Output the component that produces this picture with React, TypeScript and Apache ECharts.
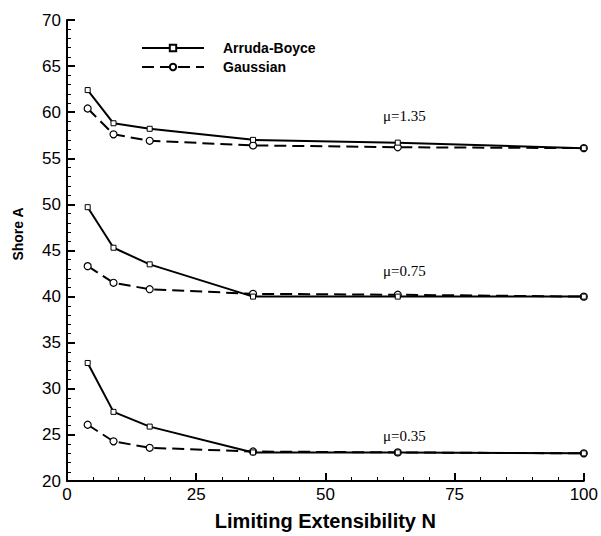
import React, { useEffect, useRef } from "react";
import * as echarts from "echarts";

const nValues = [4, 9, 16, 36, 64, 100];
const ab135 = [62.4, 58.8, 58.2, 57.0, 56.7, 56.1];
const ga135 = [60.4, 57.6, 56.9, 56.4, 56.2, 56.1];
const ab075 = [49.7, 45.3, 43.5, 40.0, 40.0, 40.0];
const ga075 = [43.3, 41.5, 40.8, 40.3, 40.2, 40.0];
const ab035 = [32.8, 27.5, 25.9, 23.1, 23.1, 23.0];
const ga035 = [26.1, 24.3, 23.6, 23.2, 23.1, 23.0];
const muLabels = ["μ=1.35", "μ=0.75", "μ=0.35"];
const seriesNames = ["Arruda-Boyce", "Gaussian"];
const xTitle = "Limiting Extensibility N";
const yTitle = "Shore A";

const pair = (ys: number[]) => nValues.map((n, i) => [n, ys[i]]);
const sans = "Liberation Sans, Arial, sans-serif";
const serifFont = "15px 'Liberation Serif', 'Times New Roman', serif";

export default function App() {
  const ref = useRef<HTMLDivElement>(null);
  useEffect(() => {
    if (!ref.current) return;
    const chart = echarts.init(ref.current, undefined, { renderer: "svg" });
    const abSeries = (d: number[]) => ({
      name: seriesNames[0],
      type: "line",
      data: pair(d),
      symbol: "rect",
      symbolSize: 5,
      showAllSymbol: true,
      itemStyle: { color: "#fff", borderColor: "#000", borderWidth: 1 },
      lineStyle: { color: "#000", width: 2, type: "solid" },
      z: 3,
    });
    const gaSeries = (d: number[]) => ({
      name: seriesNames[1],
      type: "line",
      data: pair(d),
      symbol: "circle",
      symbolSize: 7,
      showAllSymbol: true,
      itemStyle: { color: "#fff", borderColor: "#000", borderWidth: 1.2 },
      lineStyle: { color: "#000", width: 2, type: [12, 6] },
      z: 2,
    });
    const tickLabel = { fontFamily: sans, fontSize: 17, color: "#000" };
    chart.setOption({
      animation: false,
      backgroundColor: "#fff",
      grid: { left: 67, right: 15, top: 20, bottom: 44, containLabel: false },
      legend: {
        orient: "vertical",
        left: 141,
        top: 41,
        padding: 0,
        itemWidth: 62,
        itemHeight: 8,
        itemGap: 5,
        data: seriesNames,
        textStyle: {
          fontFamily: sans,
          fontWeight: "bold",
          fontSize: 14,
          color: "#000",
          padding: [0, 0, 0, 14],
        },
      },
      xAxis: {
        type: "value",
        min: 0,
        max: 100,
        interval: 25,
        name: xTitle,
        nameLocation: "middle",
        nameGap: 30,
        nameTextStyle: { fontFamily: sans, fontWeight: "bold", fontSize: 20, color: "#000" },
        axisLine: { show: true, lineStyle: { color: "#000", width: 2 } },
        axisTick: { show: true, inside: true, length: 8, lineStyle: { color: "#000", width: 2 } },
        minorTick: { show: true, splitNumber: 5, length: 4, lineStyle: { color: "#000", width: 1 } },
        splitLine: { show: false },
        axisLabel: { ...tickLabel, margin: 5 },
      },
      yAxis: {
        type: "value",
        min: 20,
        max: 70,
        interval: 5,
        axisLine: { show: true, lineStyle: { color: "#000", width: 2 } },
        axisTick: { show: true, inside: true, length: 8, lineStyle: { color: "#000", width: 2 } },
        minorTick: { show: true, splitNumber: 5, length: 4, lineStyle: { color: "#000", width: 1 } },
        splitLine: { show: false },
        axisLabel: { ...tickLabel, margin: 6 },
      },
      graphic: [
        {
          type: "text",
          x: 18,
          y: 234,
          rotation: Math.PI / 2,
          style: { text: yTitle, font: `bold 14px ${sans}`, fill: "#000", align: "center", verticalAlign: "middle" },
        },
        { type: "text", left: 383, top: 108, style: { text: muLabels[0], font: serifFont, fill: "#000" } },
        { type: "text", left: 383, top: 263, style: { text: muLabels[1], font: serifFont, fill: "#000" } },
        { type: "text", left: 383, top: 428, style: { text: muLabels[2], font: serifFont, fill: "#000" } },
      ],
      series: [abSeries(ab135), gaSeries(ga135), abSeries(ab075), gaSeries(ga075), abSeries(ab035), gaSeries(ga035)],
    });
    return () => chart.dispose();
  }, []);
  return <div ref={ref} style={{ width: 601, height: 536, position: "absolute", left: 0, top: 0 }} />;
}
